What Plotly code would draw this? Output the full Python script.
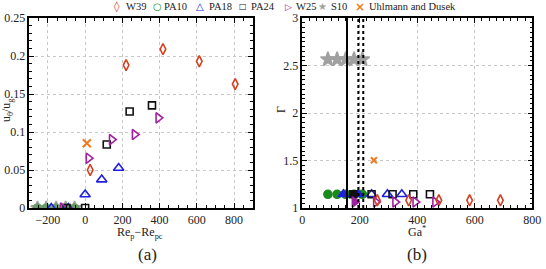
import plotly.graph_objects as go

# ---------------- data: panel (a)  x = Re_p - Re_pc, y = u_theta/u_g
a_w39_x = [27, 220, 418, 613, 806]
a_w39_y = [0.050, 0.188, 0.209, 0.193, 0.163]
a_pa10_x = [-256, -209, -156, -105, -57]
a_pa10_y = [0, 0, 0, 0, 0]
a_pa18_x = [-182, -90, 0, 89, 180]
a_pa18_y = [0, 0, 0.0177, 0.0374, 0.0527]
a_pa24_x = [-100, 0, 116, 239, 359]
a_pa24_y = [0, 0, 0.0835, 0.127, 0.135]
a_w25_x = [-120, 18, 143, 266, 393]
a_w25_y = [0, 0.0655, 0.090, 0.0967, 0.1186]
a_s10_x = [-256, -209, -156, -105, -57]
a_s10_y = [0, 0, 0, 0, 0]
a_ud_x = [9]
a_ud_y = [0.0853]

# ---------------- data: panel (b)  x = Ga*, y = Gamma
b_w39_x = [261, 370, 475, 582, 689]
b_w39_y = [1.081, 1.081, 1.081, 1.081, 1.081]
b_pa10_x = [89, 121, 151, 180, 209]
b_pa10_y = [1.144, 1.144, 1.144, 1.144, 1.144]
b_pa18_fill_x = [143, 195]
b_pa18_fill_y = [1.144, 1.144]
b_pa18_x = [241, 296, 346]
b_pa18_y = [1.144, 1.144, 1.144]
b_pa24_fill_x = [177]
b_pa24_fill_y = [1.144]
b_pa24_x = [241, 314, 386, 444]
b_pa24_y = [1.144, 1.144, 1.144, 1.144]
b_w25_fill_x = [182]
b_w25_fill_y = [1.063]
b_w25_x = [256, 323, 393, 462]
b_w25_y = [1.063, 1.063, 1.063, 1.063]
b_s10_x = [89, 121, 151, 180, 209]
b_s10_y = [2.565, 2.565, 2.565, 2.565, 2.565]
b_ud_x = [249]
b_ud_y = [1.503]
b_solid_line = 155.5
b_dotted_lines = [195, 212]

series_names = ["W39", "PA10", "PA18", "PA24", "W25", "S10", "Uhlmann and Dusek"]

RED = "#d4401f"
GREEN = "#1a8a1a"
BLUE = "#1f1fe0"
BLACK = "#111111"
PURPLE = "#a020a0"
GRAY = "#a0a0a0"
ORANGE = "#f07a20"
FONT = "Liberation Serif"

fig = go.Figure()

def add(x, y, symbol, color, size, xa, ya, lw=1.6, opacity=1.0, name=None):
    fig.add_trace(go.Scatter(
        x=x, y=y, mode="markers", name=name, showlegend=False,
        xaxis=xa, yaxis=ya, opacity=opacity,
        marker=dict(symbol=symbol, color=color, size=size,
                    line=dict(color=color, width=lw))))

# panel (a)
add(a_s10_x, a_s10_y, "star", GRAY, 10, "x", "y", name="S10")
add(a_pa10_x, a_pa10_y, "circle", "#5f9a5f", 8, "x", "y", opacity=0.85, name="PA10")
add(a_w39_x, a_w39_y, "diamond-tall-open", RED, 8, "x", "y", name="W39")
add(a_pa18_x, a_pa18_y, "triangle-up-open", BLUE, 9, "x", "y", name="PA18")
add(a_pa24_x, a_pa24_y, "square-open", BLACK, 7, "x", "y", name="PA24")
add(a_w25_x, a_w25_y, "triangle-right-open", PURPLE, 9, "x", "y", name="W25")
add(a_ud_x, a_ud_y, "x-thin-open", ORANGE, 8, "x", "y", lw=2, name="Uhlmann and Dusek")

# panel (b)
add(b_s10_x, b_s10_y, "star", GRAY, 11, "x2", "y2", name="S10")
add(b_pa10_x, b_pa10_y, "circle", GREEN, 8, "x2", "y2", name="PA10")
add(b_pa18_fill_x, b_pa18_fill_y, "triangle-up", BLUE, 9, "x2", "y2", name="PA18")
add(b_pa24_fill_x, b_pa24_fill_y, "square", BLACK, 7, "x2", "y2", name="PA24")
add(b_pa18_x, b_pa18_y, "triangle-up-open", BLUE, 9, "x2", "y2", name="PA18")
add(b_pa24_x, b_pa24_y, "square-open", BLACK, 7, "x2", "y2", name="PA24")
add(b_w25_fill_x, b_w25_fill_y, "triangle-right", PURPLE, 9, "x2", "y2", name="W25")
add(b_w25_x, b_w25_y, "triangle-right-open", PURPLE, 9, "x2", "y2", name="W25")
add(b_w39_x, b_w39_y, "diamond-tall-open", RED, 8, "x2", "y2", name="W39")
add(b_ud_x, b_ud_y, "x-thin-open", ORANGE, 6, "x2", "y2", lw=2, name="Uhlmann and Dusek")

fig.add_shape(type="line", xref="x2", yref="y2", x0=b_solid_line, x1=b_solid_line,
              y0=1, y1=3, line=dict(color="black", width=2))
for xv in b_dotted_lines:
    fig.add_shape(type="line", xref="x2", yref="y2", x0=xv, x1=xv, y0=1, y1=3,
                  line=dict(color="black", width=2, dash="dot"))

W, H = 546, 269
ydom = [(H - 208) / H, (H - 18) / H]

common = dict(showline=True, linecolor="black", linewidth=1.5, mirror="allticks",
              ticks="inside", ticklen=5, tickcolor="black", showgrid=True,
              gridcolor="#c8c8c8", griddash="dot", gridwidth=1, zeroline=False,
              tickfont=dict(family=FONT, size=12, color="#222"))

fig.update_layout(
    width=W, height=H, margin=dict(l=0, r=0, t=0, b=0, autoexpand=False),
    paper_bgcolor="white", plot_bgcolor="white", showlegend=False,
    font=dict(family=FONT, color="#222"),
    xaxis=dict(domain=[29.3 / W, 252.7 / W], range=[-300, 900], dtick=200,
               minor=dict(ticks="inside", ticklen=3, dtick=50, tickcolor="black", showgrid=False),
               anchor="y", **common),
    yaxis=dict(domain=ydom, range=[0, 0.25], dtick=0.05,
               minor=dict(ticks="inside", ticklen=3, dtick=0.01, tickcolor="black", showgrid=False),
               anchor="x", **common),
    xaxis2=dict(domain=[302.3 / W, 532.3 / W], range=[0, 800], dtick=200,
                minor=dict(ticks="inside", ticklen=3, dtick=25, tickcolor="black", showgrid=False),
                anchor="y2", **common),
    yaxis2=dict(domain=ydom, range=[1, 3], dtick=0.5,
                minor=dict(ticks="inside", ticklen=3, dtick=0.05, tickcolor="black", showgrid=False),
                anchor="x2", **common),
)

def ann(text, x, y, size=12, angle=0, xanchor="center", family=FONT, color="#222", pad=1):
    fig.add_annotation(text=text, x=x / W, y=(H - y) / H, xref="paper", yref="paper",
                       showarrow=False, textangle=angle, xanchor=xanchor, yanchor="middle",
                       borderpad=pad,
                       font=dict(family=family, size=size, color=color))

# legend row (key glyph + label)
legend_glyphs = [("\u25CA", RED, 11), ("\u25CB", GREEN, 10), ("\u25B3", BLUE, 10),
                 ("\u25A1", BLACK, 8), ("\u25B7", PURPLE, 9), ("\u2605", GRAY, 10),
                 ("\u00D7", ORANGE, 12)]
legend_key_px = [117, 157, 200, 243, 288, 322, 360]
legend_text_px = [125, 163, 208, 250, 295, 330, 368]
for nm, (g, col, sz), kx, tx in zip(series_names, legend_glyphs, legend_key_px, legend_text_px):
    ann("<b>" + g + "</b>", kx, 7, size=sz, family="DejaVu Sans", color=col, pad=0)
    ann(nm, tx, 7, size=10.5, xanchor="left", pad=0)

ann("Re<sub>p</sub>\u2212Re<sub>pc</sub>", 140, 233, pad=0)
ann("Ga<sup>*</sup>", 417, 231, pad=0)
ann("u<sub>\u03b8</sub>/u<sub>g</sub>", 7, 110, angle=-90)
ann("\u0393", 281, 110, angle=-90)
ann("(a)", 147, 254, size=17)
ann("(b)", 417, 254, size=17)

fig.write_html("out.html")
